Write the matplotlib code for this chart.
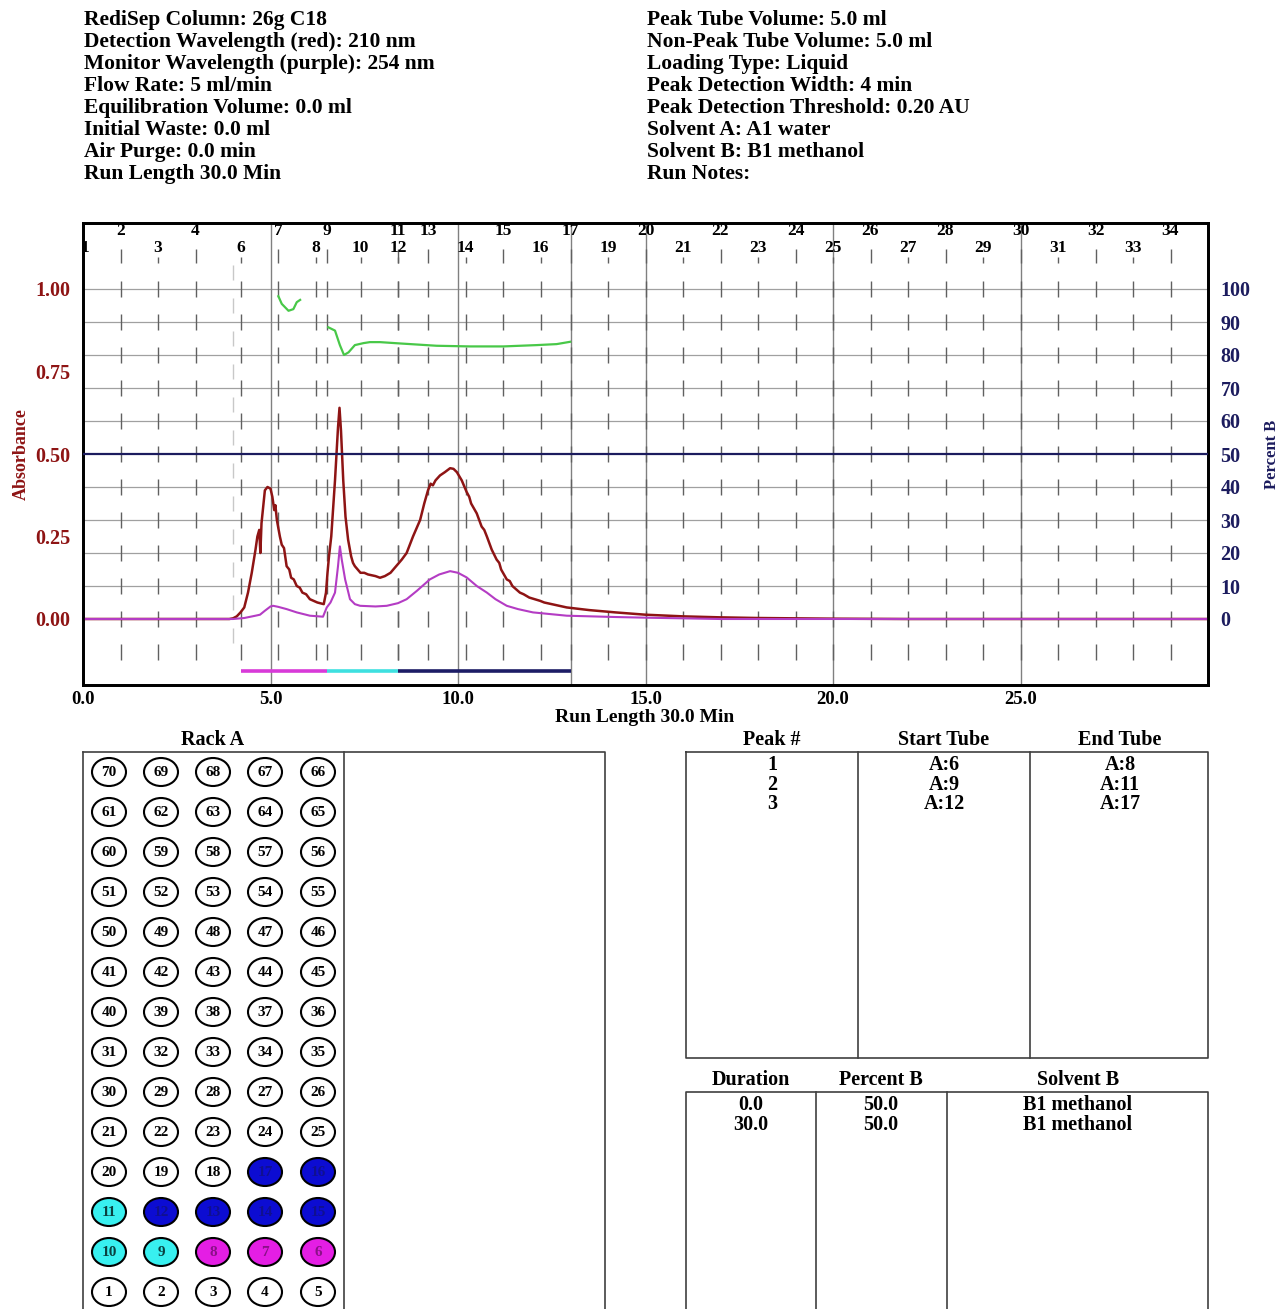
import numpy as np
import matplotlib.pyplot as plt
from matplotlib.patches import Ellipse

plt.rcParams['font.family'] = ['Liberation Serif', 'DejaVu Serif']
plt.rcParams['font.weight'] = 'bold'
plt.rcParams['axes.labelweight'] = 'bold'

W, H, DPI = 1282, 1309, 100

# run settings
settings_left = [
    "RediSep Column: 26g C18",
    "Detection Wavelength (red): 210 nm",
    "Monitor Wavelength (purple): 254 nm",
    "Flow Rate: 5 ml/min",
    "Equilibration Volume: 0.0 ml",
    "Initial Waste: 0.0 ml",
    "Air Purge: 0.0 min",
    "Run Length 30.0 Min",
]
settings_right = [
    "Peak Tube Volume: 5.0 ml",
    "Non-Peak Tube Volume: 5.0 ml",
    "Loading Type: Liquid",
    "Peak Detection Width: 4 min",
    "Peak Detection Threshold: 0.20 AU",
    "Solvent A: A1 water",
    "Solvent B: B1 methanol",
    "Run Notes:",
]

# 210 nm trace (absorbance vs min)
red_t = [0.0, 3.9, 4.0, 4.1, 4.2, 4.3, 4.4, 4.5, 4.6, 4.65, 4.7, 4.73, 4.76,
         4.85, 4.92, 5.0, 5.05, 5.1, 5.13, 5.17, 5.25, 5.3, 5.36, 5.43, 5.5,
         5.55, 5.62, 5.7, 5.78, 5.85, 5.95, 6.05, 6.15, 6.25, 6.42, 6.48, 6.52,
         6.56, 6.62, 6.72, 6.8, 6.84, 6.88, 6.94, 7.0, 7.07, 7.15, 7.2, 7.25,
         7.4, 7.5, 7.6, 7.8, 7.92, 8.05, 8.2, 8.35, 8.5, 8.63, 8.8, 8.99, 9.1,
         9.2, 9.27, 9.33, 9.4, 9.52, 9.65, 9.79, 9.88, 9.97, 10.1, 10.23,
         10.3, 10.35, 10.5, 10.63, 10.7, 10.77, 10.9, 11.03, 11.1, 11.15, 11.3,
         11.38, 11.45, 11.65, 11.75, 11.9, 12.19, 12.3, 12.5, 12.9, 13.5, 14.2,
         15.0, 16.0, 17.0, 18.0, 19.0, 20.0, 22.0, 30.0]
red_a = [0.0, 0.0, 0.002, 0.008, 0.02, 0.035, 0.08, 0.14, 0.21, 0.25, 0.27,
         0.2, 0.29, 0.39, 0.40, 0.395, 0.37, 0.33, 0.345, 0.30, 0.25, 0.225,
         0.215, 0.16, 0.15, 0.125, 0.12, 0.10, 0.095, 0.08, 0.075, 0.06, 0.055,
         0.05, 0.045, 0.08, 0.14, 0.19, 0.25, 0.42, 0.58, 0.64, 0.57, 0.42,
         0.31, 0.24, 0.19, 0.17, 0.16, 0.14, 0.14, 0.135, 0.13, 0.125, 0.13,
         0.14, 0.16, 0.18, 0.20, 0.25, 0.30, 0.35, 0.39, 0.41, 0.405, 0.42,
         0.435, 0.445, 0.457, 0.455, 0.445, 0.42, 0.385, 0.37, 0.35, 0.32,
         0.28, 0.27, 0.25, 0.21, 0.18, 0.17, 0.15, 0.12, 0.115, 0.10, 0.08,
         0.075, 0.065, 0.055, 0.05, 0.045, 0.035, 0.027, 0.02, 0.013, 0.008,
         0.005, 0.003, 0.002, 0.001, 0.0, 0.0]

# 254 nm trace
purple_t = [0.0, 4.0, 4.3, 4.6, 4.72, 4.85, 5.0, 5.07, 5.2, 5.43, 5.7, 6.05,
            6.4, 6.5, 6.6, 6.72, 6.8, 6.85, 6.9, 6.99, 7.12, 7.25, 7.39, 7.8,
            8.1, 8.4, 8.63, 8.9, 9.1, 9.25, 9.5, 9.79, 10.0, 10.23, 10.5,
            10.77, 11.0, 11.3, 11.6, 12.0, 12.9, 14.2, 15.0, 16.0, 17.0, 30.0]
purple_a = [0.0, 0.0, 0.003, 0.01, 0.013, 0.025, 0.038, 0.04, 0.037, 0.03,
            0.02, 0.01, 0.007, 0.035, 0.05, 0.08, 0.16, 0.22, 0.18, 0.12, 0.06,
            0.045, 0.04, 0.038, 0.04, 0.048, 0.06, 0.085, 0.105, 0.12, 0.135,
            0.145, 0.14, 0.126, 0.10, 0.08, 0.06, 0.04, 0.03, 0.02, 0.01,
            0.006, 0.004, 0.002, 0.0, 0.0]

# green trace, only recorded while collecting
green1_t = [5.21, 5.30, 5.48, 5.61, 5.70, 5.79]
green1_a = [0.978, 0.955, 0.934, 0.939, 0.96, 0.967]
green2_t = [6.54, 6.72, 6.85, 6.96, 7.08, 7.25, 7.48, 7.65, 7.92, 8.45, 9.43,
            10.32, 11.21, 12.1, 12.63, 12.99]
green2_a = [0.884, 0.874, 0.83, 0.80, 0.808, 0.83, 0.836, 0.839, 0.839, 0.835,
            0.828, 0.826, 0.826, 0.83, 0.833, 0.84]

# tube changes (min)
tube_numbers = [1, 2, 3, 4, 6, 7, 8, 9, 10, 11, 12, 13, 14, 15, 16, 17, 19,
                20, 21, 22, 23, 24, 25, 26, 27, 28, 29, 30, 31, 32, 33, 34]
tube_starts = [0.0, 1.0, 2.0, 3.0, 4.2, 5.2, 6.2, 6.5, 7.4, 8.4, 8.4, 9.2,
               10.2, 11.2, 12.2, 13.0, 14.0, 15.0, 16.0, 17.0, 18.0, 19.0,
               20.0, 21.0, 22.0, 23.0, 24.0, 25.0, 26.0, 27.0, 28.0, 29.0]
waste_switch = 4.0

# peaks
peak_ids = [1, 2, 3]
peak_start_tube = [6, 9, 12]
peak_end_tube = [8, 11, 17]
peak_start_min = [4.2, 6.5, 8.4]
peak_end_min = [6.5, 8.4, 13.0]
peak_colors = ['#d83ad8', '#3ee0e0', '#1c1c66']
rack_colors = ['#e41ee4', '#38f0f0', '#0c0cd2']
rack_text_colors = ['#8a1088', '#0a4040', '#101090']

# gradient
grad_duration = [0.0, 30.0]
grad_percent_b = [50.0, 50.0]
grad_solvent = ['B1 methanol', 'B1 methanol']

RED = '#8e1414'
NAVY = '#1c1c5e'
PURPLE = '#b43cc4'
GREEN = '#48c848'
GRID = '#a0a0a0'
FS = 14.5

fig = plt.figure(figsize=(W / DPI, H / DPI), dpi=DPI)

# page overlay in pixel coordinates
pg = fig.add_axes([0, 0, 1, 1])
pg.set_xlim(0, W)
pg.set_ylim(H, 0)
pg.axis('off')

for i, s in enumerate(settings_left):
    pg.text(84, 20 + 22 * i, s, fontsize=15.5, va='center', ha='left',
            fontweight='bold')
for i, s in enumerate(settings_right):
    pg.text(647, 20 + 22 * i, s, fontsize=15.5, va='center', ha='left',
            fontweight='bold')

# chromatogram
ax = fig.add_axes([83 / W, 1 - 685 / H, 1125 / W, 462 / H])
ax.set_xlim(0, 30)
ax.set_ylim(-0.2, 1.2)

for lvl in np.arange(0.1, 1.01, 0.1):
    if abs(lvl - 0.5) > 1e-6:
        ax.axhline(lvl, color=GRID, lw=0.9, zorder=1)
for m in [5, 10, 15, 20, 25, peak_end_min[-1]]:
    ax.axvline(m, color='#808080', lw=1.0, zorder=1)

# tube-change marks: short dashes on each grid level, the top one
# shortened under the lower row of tube numbers
dash_centres = np.arange(-0.1, 1.01, 0.1)
half = 0.023
for i, t in enumerate(tube_starts):
    if i == 0:
        continue
    ax.vlines([t] * len(dash_centres), dash_centres - half, dash_centres + half,
              color='#606060', lw=1.0, zorder=1)
    top = 1.122 if i % 2 else 1.097
    ax.vlines(t, 1.078, top, color='#606060', lw=1.0, zorder=1)
ax.vlines([waste_switch] * len(dash_centres), dash_centres + 0.05 - half,
          dash_centres + 0.05 + half, color='#c8c8c8', lw=1.0, zorder=1)

for i, (n, t) in enumerate(zip(tube_numbers, tube_starts)):
    y = 1.176 if i % 2 else 1.124
    ax.text(max(t, 0.05), y, str(n), ha='center', va='center', fontsize=12.5,
            fontweight='bold', clip_on=False, zorder=3)

ax.plot(red_t, red_a, color=RED, lw=1.8, zorder=4)
ax.plot(purple_t, purple_a, color=PURPLE, lw=1.5, zorder=4)
ax.plot(green1_t, green1_a, color=GREEN, lw=1.6, zorder=4)
ax.plot(green2_t, green2_a, color=GREEN, lw=1.6, zorder=4)

for s, e, c in zip(peak_start_min, peak_end_min, peak_colors):
    ax.hlines(-0.158, s, e, color=c, lw=2.6, zorder=4)

ax.set_xticks([0, 5, 10, 15, 20, 25])
ax.set_xticklabels(['%.1f' % v for v in [0, 5, 10, 15, 20, 25]], fontsize=13.5,
                   fontweight='bold')
ax.tick_params(axis='x', length=0, pad=4)
ax.set_yticks([0, 0.25, 0.5, 0.75, 1.0])
ax.set_yticklabels(['%.2f' % v for v in [0, 0.25, 0.5, 0.75, 1.0]],
                   fontsize=FS, color=RED, fontweight='bold')
ax.tick_params(axis='y', length=0, pad=9)
ax.set_ylabel('Absorbance', fontsize=13, color=RED, labelpad=4)
pg.text(645, 717, 'Run Length 30.0 Min', fontsize=14, ha='center',
        va='center', fontweight='bold')

ax2 = ax.twinx()
ax2.set_ylim(-20, 120)
ax2.plot(grad_duration, grad_percent_b, color=NAVY, lw=1.6, zorder=5)
ax2.set_yticks(range(0, 101, 10))
ax2.set_yticklabels([str(v) for v in range(0, 101, 10)], fontsize=FS,
                    color=NAVY, fontweight='bold')
ax2.tick_params(axis='y', length=0, pad=9)
ax2.set_ylabel('Percent B', fontsize=12, color=NAVY, labelpad=10)

for a in (ax, ax2):
    for sp in a.spines.values():
        sp.set_linewidth(2)
        sp.set_color('black')

# rack
pg.text(213, 740, 'Rack A', fontsize=FS, ha='center', va='center',
        fontweight='bold')
pg.plot([83, 605, 605], [752, 752, H + 5], color='#404040', lw=1.2)
pg.plot([83, 83], [752, H + 5], color='#404040', lw=1.2)
pg.plot([344, 344], [752, H + 5], color='#404040', lw=1.2)

col_x = [109, 161, 213, 265, 318]
n_rows = 14


def tube_colour(n):
    for k in range(len(peak_ids)):
        if peak_start_tube[k] <= n <= peak_end_tube[k]:
            return k
    return None


for j in range(n_rows):
    row_y = 772 + 40 * (n_rows - 1 - j)
    nums = list(range(5 * j + 1, 5 * j + 6))
    if j % 2:
        nums = nums[::-1]
    for cx, n in zip(col_x, nums):
        k = tube_colour(n)
        face = 'white' if k is None else rack_colors[k]
        tc = 'black' if k is None else rack_text_colors[k]
        pg.add_patch(Ellipse((cx, row_y), 34, 28, facecolor=face,
                             edgecolor='black', lw=1.5))
        pg.text(cx, row_y + 1, str(n), fontsize=11, ha='center',
                va='center', color=tc, fontweight='bold')

# peak table
for x, s in zip([772, 944, 1120], ['Peak #', 'Start Tube', 'End Tube']):
    pg.text(x, 740, s, fontsize=FS, ha='center', va='center',
            fontweight='bold')
pg.plot([686, 1208, 1208, 686, 686], [752, 752, 1058, 1058, 752],
        color='#404040', lw=1.2)
for x in [858, 1030]:
    pg.plot([x, x], [752, 1058], color='#404040', lw=1.2)
for i, (p, s, e) in enumerate(zip(peak_ids, peak_start_tube, peak_end_tube)):
    y = 765 + 19.5 * i
    pg.text(772, y, str(p), fontsize=FS, ha='center', va='center',
            fontweight='bold')
    pg.text(944, y, 'A:%d' % s, fontsize=FS, ha='center', va='center',
            fontweight='bold')
    pg.text(1120, y, 'A:%d' % e, fontsize=FS, ha='center', va='center',
            fontweight='bold')

# gradient table
for x, s in zip([751, 881, 1078], ['Duration', 'Percent B', 'Solvent B']):
    pg.text(x, 1080, s, fontsize=FS, ha='center', va='center',
            fontweight='bold')
pg.plot([686, 686, 1208, 1208], [H + 5, 1092, 1092, H + 5], color='#404040',
        lw=1.2)
for x in [816, 947]:
    pg.plot([x, x], [1092, H + 5], color='#404040', lw=1.2)
for i, (d, p, s) in enumerate(zip(grad_duration, grad_percent_b, grad_solvent)):
    y = 1105 + 20 * i
    pg.text(751, y, '%.1f' % d, fontsize=FS, ha='center', va='center',
            fontweight='bold')
    pg.text(881, y, '%.1f' % p, fontsize=FS, ha='center', va='center',
            fontweight='bold')
    pg.text(1078, y, s, fontsize=FS, ha='center', va='center',
            fontweight='bold')

fig.savefig('out.png', dpi=DPI)
